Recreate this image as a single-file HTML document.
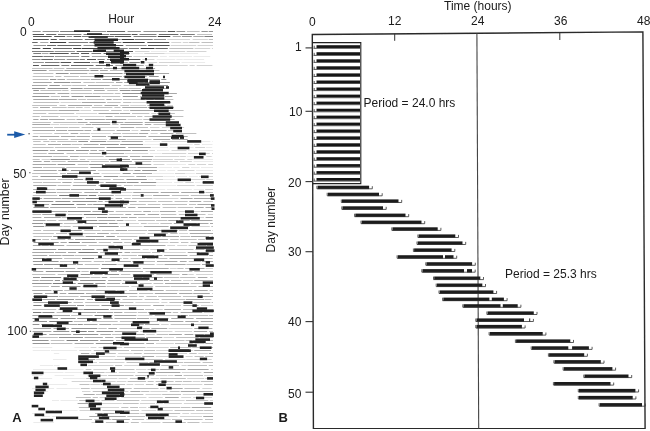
<!DOCTYPE html>
<html><head><meta charset="utf-8"><style>
html,body{margin:0;padding:0;background:#fff;}
body{width:650px;height:431px;overflow:hidden;position:relative;}
svg{position:absolute;left:0;top:0;}
text{font-family:"Liberation Sans",Arial,sans-serif;fill:#1a1a1a;}
</style></head><body>
<svg width="650" height="431" viewBox="0 0 650 431">
<defs><filter id="soft" x="0" y="0" width="1" height="1"><feGaussianBlur stdDeviation="0.35"/></filter></defs>
<rect width="650" height="431" fill="#fff"/>
<g filter="url(#soft)">
<g id="A">
<path d="M151.2 51.5h15.8M131.2 53.5h12.1M165.2 53.5h14.2M180.0 53.5h18.1M159.9 56.5h6.8M168.9 56.5h23.1M193.6 56.5h16.6M156.8 59.5h18.4M176.5 59.5h6.1M183.5 59.5h20.6M140.7 62.5h5.9M181.6 62.5h23.5M145.0 141.5h14.9M188.1 141.5h22.2M212.5 141.5h0.5M143.9 144.5h24.0M170.1 144.5h22.5M202.1 144.5h10.3M151.7 147.5h16.1M169.9 147.5h23.5M206.0 147.5h6.2M157.1 150.5h12.1M188.1 150.5h9.4M199.0 150.5h14.0M149.9 153.5h11.3M186.8 156.5h17.1M193.2 159.5h19.8M193.7 161.5h19.3M166.6 164.5h19.4M158.5 167.5h13.5M173.5 167.5h5.9M191.2 167.5h8.3M201.2 167.5h11.8M159.3 170.5h6.3M167.5 170.5h7.5M196.3 170.5h16.7M153.3 173.5h20.9M186.2 173.5h8.5M164.2 176.5h10.6M176.2 176.5h10.7M189.2 176.5h8.5M147.9 179.5h5.3M164.0 179.5h16.1M156.9 182.5h15.0M174.3 182.5h8.9M195.2 182.5h5.1M156.5 185.5h19.7M142.6 189.5h22.6M166.9 189.5h24.8M193.8 189.5h10.0M32.5 347.5h19.7M74.5 347.5h14.4M32.8 350.5h17.4M51.2 350.5h25.9M53.9 353.5h5.3M53.0 359.5h13.4M39.9 365.5h13.3M53.9 365.5h5.5M33.0 369.5h24.2M59.3 369.5h24.2M32.6 372.5h5.4M39.1 372.5h24.3M64.7 372.5h21.3M32.0 375.5h10.5M54.7 375.5h19.5M32.6 378.5h19.5M63.0 378.5h22.5M43.9 384.5h23.3M32.2 388.5h21.9M56.6 388.5h23.0M33.5 391.5h14.6M52.2 400.5h6.6M60.6 400.5h17.1M45.8 410.5h8.3M55.1 410.5h22.4M32.3 413.5h11.7M41.8 416.5h8.4M51.9 416.5h8.6M33.5 422.5h20.3" stroke="#2a2a2a" stroke-opacity="0.1" stroke-width="1" fill="none"/>
<path d="M167.3 39.5h22.8M192.7 39.5h15.2M171.4 42.5h9.8M182.8 42.5h5.6M170.8 45.5h25.4M197.6 45.5h15.4M194.7 48.5h15.5M211.9 48.5h1.1M135.1 51.5h14.3M169.0 51.5h16.2M186.7 51.5h19.7M144.4 53.5h20.2M133.3 56.5h24.7M142.3 59.5h12.2M147.3 62.5h9.9M158.9 62.5h20.8M145.1 65.5h22.6M169.4 65.5h18.2M189.5 65.5h5.1M196.7 65.5h15.6M60.6 102.5h20.3M132.2 102.5h18.5M130.2 105.5h15.9M167.2 105.5h5.8M84.2 107.5h5.9M80.3 110.5h10.8M123.4 110.5h5.8M156.7 110.5h8.5M76.0 113.5h21.1M151.3 113.5h5.0M60.1 116.5h18.1M79.8 116.5h24.7M127.7 119.5h14.5M51.1 124.5h8.0M59.8 124.5h24.5M95.8 127.5h22.9M150.0 127.5h9.5M161.9 127.5h22.2M131.5 130.5h6.8M33.3 133.5h18.9M90.8 133.5h19.8M150.6 133.5h7.1M91.6 139.5h15.3M126.7 139.5h24.8M161.6 141.5h25.2M194.4 144.5h5.2M195.2 147.5h9.9M149.3 150.5h5.7M171.5 150.5h15.0M124.6 153.5h23.6M161.8 153.5h24.4M188.0 153.5h21.6M212.0 153.5h1.0M154.8 156.5h24.6M180.1 156.5h5.8M206.3 156.5h5.3M212.9 156.5h0.1M41.7 159.5h8.2M87.3 159.5h20.4M153.0 159.5h19.9M174.4 159.5h10.3M187.3 159.5h5.2M152.5 161.5h25.5M179.9 161.5h12.0M153.6 164.5h10.8M188.4 164.5h6.8M196.9 164.5h9.2M208.2 164.5h4.8M182.1 167.5h7.2M97.9 170.5h25.2M177.5 170.5h16.9M101.6 173.5h18.6M175.0 173.5h10.4M195.9 173.5h17.1M146.7 176.5h16.6M199.3 176.5h13.7M155.5 179.5h7.9M181.0 179.5h24.2M206.2 179.5h6.8M185.4 182.5h8.4M201.9 182.5h11.1M177.1 185.5h17.6M196.5 185.5h16.5M205.1 189.5h7.9M116.9 192.5h15.6M115.0 195.5h16.2M141.0 195.5h11.1M153.3 198.5h25.1M151.8 211.5h7.2M178.1 211.5h21.9M207.9 214.5h5.1M194.3 217.5h9.8M124.4 220.5h11.7M118.5 223.5h20.4M147.7 223.5h11.4M120.1 226.5h22.4M191.6 226.5h18.2M119.7 233.5h25.8M179.1 233.5h9.0M151.5 242.5h16.9M116.5 245.5h22.4M167.2 245.5h7.9M177.2 245.5h10.0M142.7 249.5h5.9M150.4 249.5h16.5M206.0 249.5h7.0M162.5 252.5h23.3M200.6 252.5h12.4M117.3 264.5h16.8M156.6 264.5h7.0M169.8 268.5h6.9M205.6 268.5h7.4M188.4 274.5h5.2M196.1 274.5h16.9M210.0 277.5h3.0M183.1 280.5h10.1M131.3 286.5h8.2M116.7 290.5h10.1M211.9 293.5h1.1M135.3 302.5h24.0M161.3 302.5h6.2M165.6 305.5h15.4M201.0 305.5h12.0M156.1 309.5h6.5M198.4 309.5h7.0M204.0 312.5h9.0M137.7 315.5h14.7M150.0 318.5h19.1M161.1 324.5h7.5M168.6 328.5h23.8M140.4 331.5h5.7M147.4 331.5h25.0M174.8 331.5h17.3M146.2 334.5h8.4M163.5 337.5h10.5M156.0 343.5h17.9M194.9 343.5h9.5M90.5 347.5h5.8M98.6 347.5h9.7M110.2 347.5h12.0M146.6 347.5h22.0M79.3 350.5h11.9M156.1 350.5h15.8M173.4 350.5h19.8M91.2 353.5h11.4M118.1 353.5h14.6M172.1 353.5h15.0M198.4 353.5h9.4M93.9 356.5h21.5M116.9 356.5h23.7M155.9 356.5h15.2M173.0 356.5h10.1M185.5 356.5h7.2M96.1 359.5h17.6M165.0 359.5h20.6M186.2 359.5h25.5M91.6 362.5h5.4M99.1 362.5h25.4M87.9 365.5h25.5M124.2 365.5h22.8M147.8 365.5h11.4M181.6 365.5h5.1M93.3 369.5h14.0M136.0 369.5h10.3M210.9 369.5h2.1M105.4 372.5h11.6M118.8 372.5h16.3M181.8 372.5h19.5M87.6 375.5h19.5M155.9 375.5h11.4M168.0 375.5h5.3M204.1 375.5h8.7M98.2 378.5h19.1M118.5 378.5h9.0M150.5 378.5h8.8M187.2 378.5h17.0M205.2 378.5h5.3M71.7 381.5h21.7M94.6 381.5h21.1M116.7 381.5h9.6M192.7 381.5h7.5M90.4 384.5h9.5M126.6 384.5h6.6M134.7 384.5h9.3M181.8 384.5h20.5M90.8 388.5h23.9M115.5 388.5h5.8M160.0 388.5h5.3M202.3 388.5h9.5M82.0 391.5h8.4M111.5 391.5h16.8M150.3 391.5h17.2M145.6 394.5h15.8M182.8 394.5h23.9M99.5 397.5h19.9M121.3 397.5h25.1M148.6 397.5h14.0M181.2 397.5h9.9M193.2 397.5h18.9M94.2 400.5h5.4M141.2 400.5h19.8M163.6 400.5h21.1M209.9 400.5h3.1M96.4 403.5h25.4M139.9 403.5h15.1M156.1 403.5h6.8M163.8 403.5h18.1M183.9 403.5h21.6M97.2 407.5h21.9M139.0 407.5h7.3M79.5 410.5h21.7M141.5 410.5h14.7M157.2 410.5h15.6M140.2 413.5h18.0M182.3 413.5h6.8M190.5 413.5h22.5M146.2 416.5h20.0M168.3 416.5h9.1M179.9 416.5h22.1M146.4 419.5h10.6M158.3 419.5h12.4M91.6 422.5h12.1M141.3 422.5h19.2M201.7 422.5h11.3" stroke="#2a2a2a" stroke-opacity="0.2" stroke-width="1" fill="none"/>
<path d="M186.9 31.5h12.8M197.1 34.5h15.0M208.7 39.5h4.3M189.1 42.5h10.4M201.5 42.5h11.5M169.3 48.5h24.0M32.1 68.5h20.5M53.7 68.5h10.6M126.9 68.5h6.6M48.9 70.5h14.4M110.0 70.5h23.6M135.6 70.5h23.9M33.4 73.5h20.0M88.7 73.5h10.8M32.7 76.5h20.8M55.4 76.5h6.0M63.9 76.5h14.9M80.1 76.5h20.5M123.1 76.5h13.3M32.6 79.5h16.0M66.7 79.5h23.1M83.4 82.5h11.4M95.6 82.5h18.4M61.8 85.5h9.8M72.2 85.5h13.8M111.8 85.5h9.3M123.7 85.5h22.2M104.9 88.5h13.0M119.2 88.5h8.6M128.4 88.5h12.4M40.4 90.5h21.1M62.2 90.5h6.3M70.9 90.5h20.7M107.3 90.5h10.5M70.7 93.5h21.4M92.8 93.5h20.8M114.7 93.5h5.7M150.1 93.5h10.6M50.7 96.5h9.2M101.5 96.5h18.7M140.0 96.5h24.2M77.9 99.5h8.0M86.9 99.5h17.6M112.9 99.5h8.9M123.0 99.5h21.7M154.9 99.5h18.4M33.3 102.5h25.9M107.2 102.5h13.5M123.1 102.5h8.4M153.0 102.5h18.1M32.2 105.5h24.8M59.5 105.5h6.1M93.9 105.5h8.4M120.3 105.5h8.8M32.7 107.5h5.5M52.1 107.5h14.6M67.6 107.5h7.2M75.7 107.5h6.9M91.9 107.5h20.4M114.4 107.5h6.1M33.2 110.5h24.5M93.3 110.5h15.5M111.2 110.5h10.5M167.5 110.5h16.1M32.9 113.5h13.3M48.4 113.5h25.8M132.0 113.5h17.3M157.0 113.5h17.9M32.5 116.5h7.2M41.1 116.5h17.3M114.4 116.5h21.4M137.2 116.5h5.2M144.4 116.5h12.4M158.6 116.5h24.7M66.6 119.5h8.7M143.3 119.5h9.9M32.4 122.5h18.5M53.4 122.5h23.5M112.2 124.5h6.4M153.5 124.5h24.8M32.1 127.5h20.9M54.1 127.5h13.9M68.6 127.5h10.9M81.6 127.5h11.7M135.7 127.5h12.3M93.3 130.5h21.5M168.0 130.5h9.9M54.3 133.5h14.2M79.8 133.5h10.0M112.8 133.5h8.3M122.2 133.5h16.0M175.9 133.5h20.4M32.6 139.5h14.6M49.0 139.5h19.2M70.7 139.5h18.7M33.1 141.5h7.6M43.3 141.5h6.2M50.6 141.5h5.3M57.3 141.5h19.7M107.2 141.5h13.2M33.3 144.5h12.4M71.5 144.5h10.9M32.4 147.5h21.3M54.9 147.5h24.0M33.2 153.5h13.5M66.5 153.5h21.6M53.2 156.5h14.6M79.4 156.5h24.2M32.6 159.5h7.1M70.7 159.5h6.9M79.9 159.5h5.4M51.5 161.5h14.2M90.7 161.5h18.2M134.4 161.5h16.9M77.7 164.5h10.9M43.1 167.5h21.6M66.3 167.5h21.9M127.5 167.5h9.0M124.2 170.5h9.2M32.2 173.5h25.3M60.1 173.5h5.8M32.3 176.5h5.8M67.5 176.5h7.9M119.4 176.5h15.0M32.1 179.5h23.8M57.8 179.5h15.0M84.6 179.5h26.0M113.0 179.5h11.1M33.1 182.5h9.1M43.0 182.5h17.8M73.5 182.5h22.0M97.3 182.5h6.4M57.6 185.5h13.0M116.0 185.5h5.4M124.0 185.5h8.8M133.6 185.5h22.2M39.9 189.5h15.5M116.5 189.5h24.7M56.7 192.5h25.1M205.5 192.5h7.5M32.8 195.5h24.4M132.1 195.5h7.8M171.9 195.5h17.0M190.8 195.5h19.9M212.2 195.5h0.8M102.2 198.5h11.2M124.3 198.5h6.3M132.0 198.5h20.4M138.7 201.5h17.8M157.9 201.5h14.6M174.5 201.5h13.2M203.4 201.5h9.6M130.0 204.5h15.9M147.8 204.5h12.5M162.1 204.5h24.9M189.0 204.5h7.1M162.7 207.5h13.8M177.5 207.5h15.7M115.7 211.5h25.9M32.5 214.5h8.6M68.0 214.5h14.4M109.3 214.5h14.2M160.9 214.5h15.4M178.8 214.5h13.2M194.0 214.5h11.5M61.6 217.5h13.1M86.0 217.5h10.1M138.1 217.5h21.9M182.4 217.5h9.4M46.7 220.5h9.5M58.5 220.5h15.8M138.1 220.5h16.8M156.2 220.5h11.2M63.9 223.5h18.8M140.9 223.5h5.8M160.4 223.5h11.5M44.9 226.5h17.8M63.3 226.5h7.3M72.8 226.5h24.2M211.3 226.5h1.7M33.4 230.5h7.7M43.2 230.5h19.8M84.2 230.5h16.4M101.7 230.5h12.5M128.0 230.5h19.1M179.1 230.5h8.0M32.7 233.5h21.1M56.0 233.5h11.1M68.4 233.5h6.3M75.9 233.5h19.7M110.5 233.5h8.5M147.7 233.5h20.1M170.3 233.5h7.3M33.4 236.5h18.7M61.8 236.5h22.6M117.0 236.5h20.6M138.8 236.5h22.3M180.3 236.5h10.0M211.5 236.5h1.5M42.3 239.5h6.7M50.9 239.5h14.3M67.8 239.5h5.8M121.0 239.5h10.9M133.9 239.5h13.8M170.2 239.5h8.5M179.9 239.5h16.8M198.0 239.5h6.8M98.7 242.5h12.2M124.2 242.5h6.8M132.9 242.5h17.2M169.8 242.5h8.8M181.0 242.5h7.4M190.6 242.5h7.0M199.3 242.5h13.7M41.9 245.5h6.7M66.5 245.5h20.0M88.6 245.5h25.8M188.5 245.5h17.5M169.1 249.5h24.4M100.1 252.5h5.3M131.3 252.5h19.3M151.9 252.5h8.3M74.8 255.5h25.7M101.2 255.5h19.1M121.4 255.5h15.5M189.6 255.5h18.3M64.1 258.5h16.6M95.4 258.5h15.1M111.8 258.5h9.9M123.1 258.5h5.2M130.6 258.5h14.4M146.7 258.5h8.5M155.9 258.5h11.5M195.4 258.5h17.3M59.9 261.5h14.0M76.3 261.5h15.2M93.8 261.5h10.4M104.9 261.5h10.6M131.9 261.5h23.1M188.8 261.5h12.2M84.7 264.5h15.4M136.7 264.5h17.9M186.4 264.5h13.9M122.0 268.5h18.8M177.3 268.5h6.3M185.2 268.5h8.8M81.4 271.5h7.3M145.5 271.5h9.7M156.3 271.5h14.1M171.4 271.5h20.9M194.3 271.5h18.7M32.2 274.5h23.1M57.7 274.5h20.8M120.9 274.5h9.4M132.7 274.5h21.4M156.4 274.5h23.1M90.5 277.5h9.9M109.8 277.5h23.5M134.1 277.5h7.9M163.7 277.5h15.5M180.1 277.5h15.4M122.7 280.5h25.4M171.0 280.5h10.3M139.9 283.5h11.8M153.5 283.5h9.7M190.7 283.5h16.0M208.2 283.5h4.8M32.8 286.5h16.1M106.6 286.5h22.5M140.6 286.5h12.5M155.3 286.5h14.5M170.6 286.5h25.9M64.2 290.5h13.0M77.8 290.5h17.0M129.1 290.5h18.4M165.8 290.5h12.8M179.3 290.5h12.7M209.5 290.5h3.5M139.0 293.5h14.2M58.7 296.5h19.9M129.3 296.5h8.1M138.7 296.5h5.1M146.4 296.5h10.5M158.1 296.5h23.0M182.9 296.5h13.8M122.5 299.5h19.9M144.6 299.5h14.5M161.6 299.5h23.4M204.9 299.5h6.5M73.5 302.5h9.4M85.2 302.5h24.3M119.6 302.5h13.7M169.4 302.5h22.6M193.2 302.5h17.2M211.6 302.5h1.4M85.5 305.5h14.0M124.8 305.5h25.9M32.4 309.5h23.8M145.2 309.5h8.8M183.0 309.5h14.7M207.3 309.5h5.7M56.6 312.5h15.1M124.1 312.5h12.7M137.8 312.5h9.3M172.8 312.5h5.3M39.4 315.5h11.1M71.2 315.5h21.5M154.8 315.5h24.7M188.9 315.5h19.3M209.1 315.5h3.9M73.8 321.5h16.2M92.4 321.5h25.3M119.9 321.5h22.6M143.6 321.5h14.6M112.4 324.5h22.7M170.6 324.5h22.3M193.9 324.5h19.1M98.3 328.5h8.4M119.5 328.5h22.0M209.2 331.5h3.8M112.1 334.5h22.3M156.6 334.5h11.6M194.6 334.5h9.1M205.0 334.5h7.3M32.6 337.5h25.2M176.1 337.5h22.4M200.1 337.5h12.9M50.7 340.5h13.7M160.7 340.5h23.9M185.5 340.5h6.4M193.3 340.5h19.7M50.8 343.5h21.6M175.0 343.5h17.7M123.9 347.5h21.7M170.2 347.5h21.3M192.2 347.5h13.9M206.9 347.5h6.1M93.8 350.5h15.0M109.7 350.5h19.3M131.0 350.5h12.2M144.2 350.5h10.9M103.3 353.5h12.5M133.5 353.5h8.2M143.9 353.5h25.8M189.4 353.5h7.3M80.3 356.5h13.0M194.5 356.5h9.2M205.2 356.5h7.8M114.4 359.5h25.7M141.2 359.5h21.5M126.5 362.5h21.9M158.8 362.5h24.2M183.7 362.5h16.7M202.6 362.5h10.4M115.1 365.5h7.0M161.3 365.5h17.7M187.5 365.5h19.5M208.8 365.5h4.2M85.7 369.5h5.6M109.7 369.5h24.8M147.5 369.5h11.8M88.4 372.5h16.2M137.6 372.5h16.1M108.2 375.5h25.3M135.3 375.5h18.8M183.6 375.5h19.4M86.2 378.5h9.8M129.9 378.5h18.8M160.2 378.5h25.6M212.8 378.5h0.2M127.6 381.5h18.5M147.6 381.5h6.1M155.6 381.5h9.9M166.2 381.5h7.4M175.2 381.5h7.0M183.0 381.5h8.7M200.9 381.5h12.1M79.5 384.5h10.0M100.7 384.5h24.4M145.9 384.5h7.5M156.0 384.5h8.8M165.4 384.5h15.8M204.1 384.5h8.9M80.9 388.5h8.8M122.7 388.5h9.0M133.8 388.5h24.7M184.4 388.5h15.3M92.7 391.5h17.8M141.2 391.5h8.1M169.8 391.5h9.9M95.9 394.5h23.3M120.6 394.5h22.8M162.2 394.5h18.8M209.2 394.5h3.8M75.9 397.5h14.9M92.7 397.5h5.2M79.1 400.5h14.2M101.5 400.5h12.8M116.8 400.5h22.5M185.9 400.5h22.3M122.7 403.5h16.0M78.9 407.5h17.3M121.3 407.5h7.0M130.1 407.5h7.9M148.2 407.5h10.4M160.0 407.5h20.2M180.9 407.5h9.6M102.4 410.5h20.1M123.3 410.5h6.9M130.8 410.5h8.2M174.5 410.5h20.0M196.2 410.5h7.2M204.1 410.5h8.9M95.0 413.5h7.2M115.3 413.5h24.1M159.4 413.5h20.8M127.3 416.5h17.7M78.3 419.5h13.8M94.4 419.5h17.1M132.2 419.5h11.9M172.0 419.5h9.8M184.2 419.5h18.4M205.0 419.5h8.0M105.9 422.5h22.7M130.9 422.5h7.9M162.5 422.5h23.3M187.4 422.5h12.1" stroke="#2a2a2a" stroke-opacity="0.3" stroke-width="1" fill="none"/>
<path d="M172.7 36.5h8.2M193.3 36.5h10.5M40.2 42.5h8.1M42.0 53.5h6.5M91.9 56.5h19.7M112.4 56.5h19.5M91.2 62.5h11.5M118.6 62.5h9.2M115.4 65.5h19.6M136.0 65.5h7.8M66.3 68.5h20.5M89.4 68.5h13.0M104.0 68.5h21.1M134.5 68.5h20.6M64.5 70.5h24.9M100.0 70.5h7.8M70.0 73.5h17.4M123.8 73.5h10.2M145.5 73.5h23.6M103.1 76.5h18.8M137.3 76.5h9.4M57.4 79.5h7.6M90.8 79.5h10.2M135.9 79.5h23.8M33.1 82.5h18.6M71.1 82.5h9.9M116.0 82.5h6.5M124.1 82.5h13.1M138.3 82.5h5.2M32.0 85.5h15.5M88.0 85.5h21.7M83.6 88.5h20.7M143.3 88.5h25.2M94.0 90.5h10.7M157.3 90.5h5.5M33.1 93.5h22.3M57.5 93.5h11.9M161.4 93.5h15.5M61.0 96.5h8.2M33.2 99.5h24.9M58.8 99.5h18.0M106.4 99.5h5.2M146.4 99.5h7.1M81.8 102.5h23.9M68.1 105.5h24.0M104.5 105.5h13.5M147.4 105.5h10.2M159.6 105.5h5.9M40.0 107.5h9.9M122.2 107.5h25.0M148.0 107.5h25.9M58.5 110.5h20.9M130.1 110.5h24.7M98.5 113.5h20.6M119.8 113.5h10.3M105.5 116.5h7.0M33.2 119.5h5.3M40.1 119.5h8.0M49.1 119.5h15.6M76.5 119.5h6.0M84.9 119.5h20.0M105.6 119.5h20.6M153.9 119.5h20.7M77.5 122.5h10.0M89.6 122.5h20.7M111.5 122.5h11.9M124.5 122.5h18.2M144.7 122.5h25.6M32.3 124.5h18.1M85.6 124.5h5.6M91.9 124.5h18.3M120.4 124.5h22.2M144.8 124.5h6.4M120.5 127.5h13.7M32.5 130.5h22.5M56.1 130.5h11.0M68.1 130.5h15.5M84.4 130.5h6.7M116.6 130.5h13.4M140.6 130.5h9.3M151.1 130.5h15.5M70.6 133.5h7.6M139.1 133.5h9.0M160.3 133.5h13.1M32.6 136.5h5.7M39.7 136.5h19.6M60.9 136.5h14.7M76.5 136.5h13.5M92.0 136.5h14.0M107.8 136.5h13.8M122.7 136.5h23.5M148.4 136.5h22.9M173.2 136.5h14.5M109.4 139.5h16.4M153.1 139.5h17.1M171.9 139.5h15.8M121.5 141.5h21.3M48.0 144.5h12.9M62.0 144.5h8.9M83.5 144.5h15.1M81.1 147.5h23.7M128.1 147.5h22.6M49.9 150.5h5.1M90.4 150.5h6.6M98.8 150.5h5.6M48.3 153.5h15.6M89.4 153.5h11.3M102.5 153.5h21.5M32.9 156.5h19.3M70.0 156.5h8.8M105.5 156.5h22.3M130.0 156.5h10.4M141.6 156.5h11.7M131.9 159.5h20.3M33.1 161.5h8.5M43.9 161.5h6.3M67.7 161.5h21.7M110.4 161.5h21.5M32.6 164.5h23.7M129.2 164.5h22.0M32.7 167.5h9.3M109.9 167.5h16.0M137.4 167.5h19.7M33.5 170.5h23.2M58.2 170.5h10.5M93.4 173.5h6.0M132.9 173.5h19.2M76.9 176.5h24.5M136.3 176.5h9.7M62.3 182.5h9.3M33.2 185.5h23.2M72.8 185.5h23.3M98.6 185.5h15.8M33.1 189.5h5.9M56.5 189.5h13.5M70.9 189.5h23.1M33.2 192.5h22.8M84.3 192.5h13.9M100.0 192.5h16.1M133.2 192.5h25.4M160.7 192.5h18.3M181.2 192.5h23.6M98.0 195.5h15.8M153.1 195.5h16.5M32.4 198.5h9.7M43.6 198.5h17.3M61.6 198.5h23.1M115.6 198.5h6.4M180.5 198.5h12.1M193.9 198.5h17.9M97.6 201.5h5.1M104.8 201.5h15.5M122.8 201.5h13.8M189.4 201.5h11.8M32.5 204.5h8.0M42.3 204.5h6.8M87.3 204.5h5.2M111.1 204.5h16.3M197.4 204.5h15.6M50.1 207.5h25.9M77.4 207.5h22.1M100.4 207.5h25.5M128.2 207.5h7.3M137.9 207.5h22.2M194.9 207.5h8.8M205.5 207.5h7.5M32.1 211.5h13.6M47.9 211.5h19.5M92.4 211.5h9.1M103.2 211.5h10.6M143.3 211.5h7.6M159.8 211.5h16.0M200.7 211.5h12.3M42.2 214.5h24.0M125.3 214.5h5.9M133.7 214.5h11.6M147.7 214.5h11.4M32.5 217.5h8.9M44.0 217.5h16.8M76.1 217.5h7.6M120.8 217.5h6.9M128.9 217.5h7.7M160.9 217.5h20.2M205.6 217.5h7.4M32.9 220.5h12.7M98.5 220.5h16.9M116.7 220.5h6.8M168.2 220.5h9.8M178.8 220.5h10.9M191.2 220.5h21.3M43.7 223.5h18.9M173.8 223.5h22.6M198.2 223.5h10.3M210.0 223.5h3.0M143.7 226.5h24.9M170.0 226.5h19.5M115.6 230.5h11.5M148.2 230.5h15.8M165.5 230.5h12.4M188.8 230.5h22.1M212.6 230.5h0.4M97.1 233.5h11.8M189.8 233.5h23.2M162.4 236.5h16.6M191.0 236.5h18.2M32.7 239.5h8.3M95.9 239.5h23.0M149.0 239.5h19.0M206.0 239.5h7.0M60.5 242.5h6.3M81.7 242.5h15.1M113.3 242.5h9.0M32.9 245.5h7.4M50.0 245.5h14.2M140.3 245.5h25.2M207.0 245.5h6.0M96.5 249.5h22.3M119.7 249.5h20.5M195.5 249.5h9.1M32.2 252.5h21.8M55.0 252.5h11.1M68.0 252.5h8.0M124.5 252.5h5.7M187.7 252.5h11.9M32.5 255.5h14.8M49.1 255.5h12.4M62.2 255.5h12.0M138.1 255.5h16.1M156.7 255.5h5.7M164.1 255.5h23.3M209.2 255.5h3.8M46.5 258.5h15.7M169.5 258.5h24.7M117.5 261.5h13.4M157.0 261.5h20.4M179.9 261.5h6.7M201.8 261.5h11.2M64.1 264.5h12.1M76.9 264.5h6.0M164.5 264.5h21.1M202.0 264.5h11.0M54.2 268.5h21.0M77.4 268.5h21.2M113.6 268.5h7.8M142.9 268.5h25.8M196.5 268.5h8.1M33.2 271.5h10.1M110.7 271.5h6.3M118.7 271.5h24.3M94.3 274.5h8.4M182.1 274.5h5.5M70.4 277.5h19.5M101.8 277.5h5.4M143.4 277.5h19.4M197.9 277.5h9.5M32.4 280.5h6.4M39.5 280.5h13.6M108.1 280.5h13.4M149.5 280.5h13.6M164.0 280.5h5.1M194.2 280.5h18.8M107.1 283.5h13.0M122.0 283.5h16.1M165.0 283.5h24.1M51.1 286.5h8.6M82.7 286.5h23.2M198.5 286.5h14.5M32.2 290.5h19.3M52.8 290.5h10.0M95.5 290.5h20.1M149.8 290.5h13.9M194.1 290.5h13.6M45.0 293.5h12.8M59.7 293.5h6.5M85.9 293.5h20.9M123.7 293.5h13.7M154.8 293.5h22.3M179.1 293.5h13.4M193.2 293.5h16.6M80.2 296.5h19.5M197.4 296.5h15.6M32.4 299.5h9.2M42.3 299.5h12.8M75.3 299.5h9.2M86.9 299.5h6.1M94.2 299.5h13.6M109.6 299.5h10.7M185.8 299.5h18.4M33.4 302.5h16.8M52.4 302.5h19.2M43.7 305.5h13.2M57.5 305.5h18.5M153.2 305.5h11.1M183.4 305.5h15.2M58.5 309.5h24.4M110.1 309.5h18.8M129.6 309.5h14.4M164.3 309.5h16.6M72.6 312.5h23.5M96.9 312.5h16.3M114.0 312.5h8.4M147.9 312.5h23.3M180.6 312.5h21.6M32.4 315.5h5.6M52.9 315.5h17.1M114.3 315.5h22.1M181.0 315.5h6.8M114.5 318.5h21.5M136.8 318.5h12.3M171.2 318.5h22.4M196.1 318.5h16.9M159.3 321.5h24.1M185.3 321.5h13.2M200.7 321.5h12.3M55.3 324.5h21.7M83.7 324.5h13.8M99.3 324.5h12.0M136.9 324.5h6.8M144.9 324.5h14.3M33.3 328.5h17.8M53.5 328.5h15.5M108.3 328.5h8.7M142.6 328.5h7.1M151.4 328.5h15.8M194.3 328.5h18.1M32.5 331.5h18.9M114.7 331.5h23.7M193.9 331.5h13.2M49.2 334.5h21.9M100.3 334.5h10.8M136.6 334.5h7.9M168.9 334.5h13.0M184.5 334.5h8.9M84.5 337.5h18.4M105.1 337.5h8.2M115.4 337.5h16.7M134.1 337.5h10.8M146.2 337.5h16.1M116.0 340.5h12.2M129.6 340.5h12.3M142.9 340.5h16.2M74.6 343.5h19.1M122.1 343.5h22.2M146.2 343.5h7.8M205.5 343.5h7.5M194.2 350.5h16.8M213.0 350.5h0.0M80.9 353.5h8.4M208.9 353.5h4.1M142.3 356.5h11.8M80.3 359.5h14.9M149.4 362.5h7.2M160.1 369.5h25.6M187.6 369.5h21.0M155.7 372.5h24.7M203.8 372.5h9.2M174.6 375.5h7.4M167.7 388.5h15.0M130.4 391.5h10.0M180.7 391.5h14.5M196.6 391.5h16.4M83.6 394.5h11.1M165.1 397.5h13.6M77.6 403.5h10.6M90.2 403.5h5.4M207.5 403.5h5.5M191.7 407.5h19.5M103.8 413.5h10.9M89.3 416.5h10.5M101.8 416.5h24.0M203.2 416.5h9.8M112.1 419.5h17.7" stroke="#2a2a2a" stroke-opacity="0.4" stroke-width="1" fill="none"/>
<path d="M32.5 31.5h8.2M42.6 31.5h16.3M83.7 31.5h22.4M127.6 31.5h13.3M143.5 31.5h23.0M176.4 31.5h8.8M201.5 31.5h6.3M208.7 31.5h4.3M66.6 36.5h5.5M181.9 36.5h9.9M99.0 39.5h6.3M106.0 39.5h8.4M115.7 39.5h5.0M153.7 39.5h12.3M100.0 42.5h21.4M33.4 45.5h12.7M83.5 45.5h18.7M125.7 45.5h20.8M54.7 51.5h20.2M94.3 51.5h7.2M55.0 56.5h24.1M32.2 59.5h8.4M54.0 59.5h11.1M66.7 59.5h12.3M33.0 62.5h10.9M32.0 70.5h14.6M90.4 70.5h8.0M55.8 73.5h12.8M100.1 73.5h22.5M135.2 73.5h9.0M149.1 76.5h9.6M50.0 79.5h6.3M102.5 79.5h25.0M129.8 79.5h5.5M161.3 79.5h5.0M53.8 82.5h16.6M144.7 82.5h25.1M49.4 85.5h10.4M147.0 85.5h21.0M32.1 88.5h13.3M47.7 88.5h20.4M70.7 88.5h11.9M33.3 90.5h5.6M119.8 90.5h10.8M131.2 90.5h24.2M122.2 93.5h25.6M32.4 96.5h16.9M71.6 96.5h11.9M84.8 96.5h15.7M122.8 96.5h15.0M164.9 96.5h7.5M78.3 141.5h9.7M90.1 141.5h16.1M100.0 144.5h18.8M120.2 144.5h22.9M106.6 147.5h19.0M32.7 150.5h15.5M57.3 150.5h16.8M76.0 150.5h12.9M106.2 150.5h24.6M132.1 150.5h15.7M50.5 159.5h19.4M108.7 159.5h21.3M57.6 164.5h17.6M89.2 164.5h13.9M104.9 164.5h23.6M90.4 167.5h17.2M70.9 170.5h24.9M134.4 170.5h6.1M142.2 170.5h14.6M67.0 173.5h24.0M122.7 173.5h8.0M40.5 176.5h24.6M103.7 176.5h14.5M74.0 179.5h9.2M126.5 179.5h20.3M105.7 182.5h20.2M126.6 182.5h12.0M140.9 182.5h15.4M94.9 189.5h20.7M76.5 195.5h11.0M32.8 201.5h20.5M55.4 201.5h15.0M72.5 201.5h24.2M76.5 204.5h9.3M93.2 204.5h15.4M33.4 207.5h15.2M68.0 211.5h22.7M97.1 217.5h10.0M107.7 217.5h12.2M76.0 220.5h21.2M32.2 223.5h10.8M84.7 223.5h22.8M108.8 223.5h8.8M33.2 226.5h11.0M99.1 226.5h19.6M65.2 230.5h16.5M53.2 236.5h7.9M85.6 236.5h18.4M106.3 236.5h8.5M75.1 239.5h20.2M33.5 242.5h25.2M32.9 249.5h23.3M58.0 249.5h23.3M82.2 249.5h12.2M106.7 252.5h15.5M33.0 258.5h11.4M32.9 261.5h25.7M33.4 264.5h9.5M44.1 264.5h18.6M101.9 264.5h14.7M32.5 268.5h20.6M45.8 271.5h18.4M65.5 271.5h14.7M90.7 271.5h18.6M80.7 274.5h12.0M104.6 274.5h14.5M33.0 277.5h6.9M63.6 277.5h5.7M54.8 280.5h5.2M62.0 280.5h16.4M80.1 280.5h25.6M32.1 283.5h19.6M70.7 283.5h5.0M95.3 283.5h9.9M62.0 286.5h18.5M33.4 293.5h9.0M68.3 293.5h16.0M107.5 293.5h14.7M33.2 296.5h7.1M41.1 296.5h16.9M101.1 296.5h26.0M56.7 299.5h17.3M77.0 305.5h7.0M101.5 305.5h22.4M42.4 312.5h12.0M106.6 315.5h5.9M32.5 318.5h25.5M60.6 318.5h15.1M77.3 318.5h24.1M103.4 318.5h9.2M32.9 321.5h14.1M32.6 324.5h6.8M41.3 324.5h12.1M77.5 324.5h5.3M71.5 328.5h25.8M53.3 331.5h16.0M88.0 331.5h6.2M96.5 331.5h16.7M32.8 334.5h13.8M73.1 334.5h25.2M58.9 337.5h24.1M32.1 340.5h16.5M80.0 340.5h18.3M100.2 340.5h13.3M32.6 343.5h17.0M95.8 343.5h23.9" stroke="#2a2a2a" stroke-opacity="0.5" stroke-width="1" fill="none"/>
<path d="M60.1 31.5h15.7M76.5 31.5h6.5M58.0 34.5h23.4M83.5 34.5h25.6M139.5 34.5h17.0M180.2 34.5h14.6M81.8 36.5h7.7M133.5 36.5h23.1M204.4 36.5h8.6M59.2 39.5h23.4M134.9 39.5h17.9M68.6 42.5h19.6M118.3 48.5h9.4M128.9 48.5h10.1M32.0 51.5h21.8M103.2 51.5h10.8M33.3 53.5h7.9M91.5 53.5h9.6M121.4 53.5h8.4M43.4 56.5h10.7M81.3 56.5h8.1M79.6 59.5h5.3M97.5 59.5h7.2M107.0 59.5h15.4M45.0 62.5h14.6M104.0 62.5h13.0M129.4 62.5h10.5M61.4 65.5h7.9M59.1 195.5h15.9M88.7 195.5h7.5M85.7 198.5h15.3M51.5 204.5h22.7M83.8 214.5h23.7M68.7 242.5h11.2M78.4 252.5h19.5M82.1 258.5h12.1M101.1 268.5h10.8M41.2 277.5h20.0M52.9 283.5h16.5M77.8 283.5h15.7M110.5 302.5h7.0M33.3 305.5h8.2M83.5 309.5h25.3M33.0 312.5h8.4M94.6 315.5h10.2M49.3 321.5h23.3M71.2 331.5h15.5M66.6 340.5h11.4" stroke="#2a2a2a" stroke-opacity="0.6" stroke-width="1" fill="none"/>
<path d="M106.9 31.5h18.2M46.2 34.5h10.1M109.9 34.5h20.9M158.8 34.5h19.6M90.6 36.5h23.3M84.8 39.5h13.4M32.2 42.5h5.5M89.4 42.5h8.5M47.1 45.5h9.1M57.3 45.5h23.9M53.1 48.5h18.8M155.4 48.5h12.4M76.7 51.5h15.9M70.8 53.5h8.2M103.6 53.5h15.2M32.2 56.5h10.6M41.3 59.5h11.6M41.2 65.5h18.2M71.0 65.5h22.5M95.7 65.5h17.3" stroke="#2a2a2a" stroke-opacity="0.7" stroke-width="1" fill="none"/>
<path d="M167.7 31.5h7.5M32.7 34.5h11.3M131.7 34.5h5.8M33.1 36.5h18.6M54.2 36.5h11.0M73.6 36.5h7.5M114.6 36.5h16.5M33.0 39.5h15.8M50.7 39.5h6.1M147.3 42.5h21.9M104.4 45.5h18.9M148.0 45.5h21.6M32.2 48.5h8.2M101.9 48.5h14.1M116.2 51.5h16.8M49.6 53.5h19.1M81.1 53.5h8.0M87.0 59.5h9.0M124.7 59.5h15.6M60.6 62.5h10.5M73.6 62.5h16.5M33.0 65.5h5.9" stroke="#2a2a2a" stroke-opacity="0.8" stroke-width="1" fill="none"/>
<path d="M157.8 36.5h12.5M121.6 39.5h12.6M50.0 42.5h16.1M122.7 42.5h22.0M42.8 48.5h8.1M73.2 48.5h7.8M81.6 48.5h18.6M140.7 48.5h13.8" stroke="#2a2a2a" stroke-opacity="0.9" stroke-width="1" fill="none"/>
<rect x="74.0" y="30.3" width="16.0" height="1.7" fill="#232323"/>
<rect x="87.0" y="33.2" width="15.0" height="1.7" fill="#232323"/>
<rect x="88.6" y="36.2" width="19.2" height="1.7" fill="#232323"/>
<rect x="94.5" y="38.5" width="23.5" height="2.5" fill="#232323"/>
<rect x="93.7" y="41.2" width="20.0" height="2.5" fill="#232323"/>
<rect x="94.5" y="44.0" width="21.5" height="2.5" fill="#232323"/>
<rect x="97.4" y="47.0" width="22.2" height="2.5" fill="#232323"/>
<rect x="93.0" y="49.5" width="13.0" height="2.5" fill="#232323"/>
<rect x="113.7" y="49.5" width="10.3" height="2.5" fill="#232323"/>
<rect x="106.0" y="52.5" width="18.0" height="2.5" fill="#232323"/>
<rect x="108.0" y="55.5" width="16.0" height="2.5" fill="#232323"/>
<rect x="110.0" y="58.5" width="14.0" height="2.5" fill="#232323"/>
<rect x="99.0" y="61.0" width="5.0" height="2.5" fill="#232323"/>
<rect x="111.0" y="61.0" width="13.0" height="2.5" fill="#232323"/>
<rect x="106.0" y="63.8" width="4.0" height="2.5" fill="#232323"/>
<rect x="113.0" y="66.8" width="4.0" height="2.5" fill="#232323"/>
<rect x="94.5" y="75.0" width="8.8" height="2.5" fill="#232323"/>
<rect x="112.0" y="78.0" width="7.6" height="2.5" fill="#232323"/>
<rect x="120.0" y="52.0" width="9.0" height="2.5" fill="#232323"/>
<rect x="120.0" y="55.0" width="6.0" height="2.5" fill="#232323"/>
<rect x="120.0" y="58.0" width="9.0" height="2.5" fill="#232323"/>
<rect x="145.0" y="58.0" width="2.0" height="2.5" fill="#232323"/>
<rect x="120.0" y="61.0" width="3.0" height="2.5" fill="#232323"/>
<rect x="140.7" y="61.0" width="3.7" height="2.5" fill="#232323"/>
<rect x="123.0" y="63.8" width="13.2" height="2.5" fill="#232323"/>
<rect x="148.8" y="63.8" width="4.4" height="2.5" fill="#232323"/>
<rect x="121.5" y="66.8" width="17.7" height="2.5" fill="#232323"/>
<rect x="146.0" y="66.8" width="7.0" height="2.5" fill="#232323"/>
<rect x="124.4" y="69.8" width="29.6" height="2.5" fill="#232323"/>
<rect x="126.0" y="72.8" width="28.0" height="2.5" fill="#232323"/>
<rect x="124.4" y="75.7" width="20.6" height="2.5" fill="#232323"/>
<rect x="163.0" y="75.7" width="2.0" height="2.5" fill="#232323"/>
<rect x="127.4" y="78.7" width="20.6" height="2.5" fill="#232323"/>
<rect x="128.9" y="81.7" width="8.8" height="2.5" fill="#232323"/>
<rect x="149.5" y="81.7" width="10.4" height="2.5" fill="#232323"/>
<rect x="127.4" y="80.2" width="20.6" height="2.5" fill="#232323"/>
<rect x="149.5" y="80.2" width="10.5" height="2.5" fill="#232323"/>
<rect x="136.0" y="83.2" width="13.5" height="2.5" fill="#232323"/>
<rect x="145.0" y="86.2" width="19.0" height="2.5" fill="#232323"/>
<rect x="166.0" y="86.2" width="3.0" height="2.5" fill="#232323"/>
<rect x="142.0" y="89.0" width="21.0" height="2.5" fill="#232323"/>
<rect x="140.7" y="91.8" width="28.0" height="2.5" fill="#232323"/>
<rect x="142.0" y="94.2" width="22.3" height="2.5" fill="#232323"/>
<rect x="140.7" y="97.2" width="23.6" height="2.5" fill="#232323"/>
<rect x="146.6" y="101.0" width="23.6" height="2.5" fill="#232323"/>
<rect x="149.5" y="103.5" width="14.8" height="2.5" fill="#232323"/>
<rect x="149.5" y="106.5" width="23.7" height="2.5" fill="#232323"/>
<rect x="154.0" y="109.5" width="14.7" height="2.5" fill="#232323"/>
<rect x="158.4" y="112.5" width="11.8" height="2.5" fill="#232323"/>
<rect x="152.5" y="115.3" width="19.2" height="2.5" fill="#232323"/>
<rect x="149.5" y="118.3" width="20.7" height="2.5" fill="#232323"/>
<rect x="165.8" y="121.2" width="13.2" height="2.5" fill="#232323"/>
<rect x="165.8" y="123.8" width="14.8" height="2.5" fill="#232323"/>
<rect x="170.2" y="126.8" width="11.8" height="2.5" fill="#232323"/>
<rect x="173.2" y="129.8" width="8.8" height="2.5" fill="#232323"/>
<rect x="171.7" y="134.8" width="11.8" height="2.5" fill="#232323"/>
<rect x="112.0" y="120.8" width="4.6" height="2.5" fill="#232323"/>
<rect x="97.4" y="128.2" width="3.0" height="2.5" fill="#232323"/>
<rect x="171.0" y="136.4" width="8.0" height="2.5" fill="#232323"/>
<rect x="180.0" y="136.4" width="4.0" height="2.5" fill="#232323"/>
<rect x="187.2" y="140.1" width="14.0" height="2.6" fill="#232323"/>
<rect x="159.9" y="143.3" width="7.4" height="2.6" fill="#232323"/>
<rect x="177.6" y="146.7" width="11.8" height="2.6" fill="#232323"/>
<rect x="199.0" y="152.6" width="6.7" height="2.6" fill="#232323"/>
<rect x="193.9" y="156.0" width="9.6" height="2.6" fill="#232323"/>
<rect x="120.0" y="158.5" width="2.0" height="2.6" fill="#232323"/>
<rect x="135.5" y="162.2" width="6.7" height="2.6" fill="#232323"/>
<rect x="120.0" y="164.9" width="8.9" height="2.6" fill="#232323"/>
<rect x="120.0" y="168.2" width="7.4" height="2.6" fill="#232323"/>
<rect x="201.0" y="175.5" width="7.6" height="2.6" fill="#232323"/>
<rect x="177.6" y="178.5" width="13.3" height="2.6" fill="#232323"/>
<rect x="202.7" y="181.1" width="11.1" height="2.6" fill="#232323"/>
<rect x="120.0" y="188.1" width="6.0" height="2.6" fill="#232323"/>
<rect x="110.7" y="136.4" width="7.3" height="2.5" fill="#232323"/>
<rect x="101.9" y="151.9" width="4.4" height="2.6" fill="#232323"/>
<rect x="116.6" y="158.5" width="5.2" height="2.6" fill="#232323"/>
<rect x="101.9" y="165.2" width="20.6" height="2.6" fill="#232323"/>
<rect x="62.0" y="168.4" width="4.4" height="2.6" fill="#232323"/>
<rect x="121.0" y="168.4" width="3.0" height="2.6" fill="#232323"/>
<rect x="79.0" y="171.5" width="11.8" height="2.6" fill="#232323"/>
<rect x="62.0" y="175.2" width="15.5" height="2.6" fill="#232323"/>
<rect x="85.6" y="177.7" width="7.4" height="2.6" fill="#232323"/>
<rect x="87.0" y="181.1" width="11.9" height="2.6" fill="#232323"/>
<rect x="100.4" y="184.4" width="16.2" height="2.6" fill="#232323"/>
<rect x="36.9" y="187.4" width="8.8" height="2.6" fill="#232323"/>
<rect x="109.2" y="187.4" width="13.3" height="2.6" fill="#232323"/>
<rect x="36.9" y="187.4" width="10.3" height="2.6" fill="#232323"/>
<rect x="110.0" y="187.4" width="14.0" height="2.6" fill="#232323"/>
<rect x="36.0" y="190.8" width="9.7" height="2.6" fill="#232323"/>
<rect x="111.5" y="190.8" width="9.5" height="2.6" fill="#232323"/>
<rect x="69.4" y="194.1" width="9.6" height="2.6" fill="#232323"/>
<rect x="32.4" y="197.3" width="7.4" height="2.6" fill="#232323"/>
<rect x="98.9" y="197.3" width="11.8" height="2.6" fill="#232323"/>
<rect x="32.4" y="200.7" width="4.5" height="2.6" fill="#232323"/>
<rect x="108.5" y="200.7" width="15.5" height="2.6" fill="#232323"/>
<rect x="34.6" y="204.1" width="9.6" height="2.6" fill="#232323"/>
<rect x="104.8" y="204.1" width="16.2" height="2.6" fill="#232323"/>
<rect x="98.2" y="207.4" width="6.6" height="2.6" fill="#232323"/>
<rect x="32.4" y="210.3" width="19.2" height="2.6" fill="#232323"/>
<rect x="101.9" y="210.3" width="5.9" height="2.6" fill="#232323"/>
<rect x="55.3" y="213.7" width="10.4" height="2.6" fill="#232323"/>
<rect x="67.1" y="217.0" width="14.8" height="2.6" fill="#232323"/>
<rect x="77.5" y="220.4" width="8.8" height="2.6" fill="#232323"/>
<rect x="45.7" y="223.3" width="14.1" height="2.6" fill="#232323"/>
<rect x="78.2" y="226.6" width="14.8" height="2.6" fill="#232323"/>
<rect x="60.5" y="229.5" width="10.3" height="2.6" fill="#232323"/>
<rect x="69.4" y="232.8" width="13.3" height="2.6" fill="#232323"/>
<rect x="57.5" y="236.2" width="13.3" height="2.6" fill="#232323"/>
<rect x="32.4" y="239.1" width="3.0" height="2.6" fill="#232323"/>
<rect x="38.3" y="242.8" width="15.5" height="2.6" fill="#232323"/>
<rect x="199.0" y="190.8" width="5.2" height="2.6" fill="#232323"/>
<rect x="140.7" y="194.1" width="2.9" height="2.6" fill="#232323"/>
<rect x="210.0" y="194.1" width="3.8" height="2.6" fill="#232323"/>
<rect x="210.8" y="197.3" width="3.7" height="2.6" fill="#232323"/>
<rect x="120.0" y="200.7" width="8.9" height="2.6" fill="#232323"/>
<rect x="120.0" y="204.1" width="3.0" height="2.6" fill="#232323"/>
<rect x="211.0" y="204.1" width="3.5" height="2.6" fill="#232323"/>
<rect x="211.5" y="207.4" width="3.0" height="2.6" fill="#232323"/>
<rect x="185.0" y="210.3" width="8.9" height="2.6" fill="#232323"/>
<rect x="185.0" y="213.7" width="12.5" height="2.6" fill="#232323"/>
<rect x="180.6" y="217.0" width="19.2" height="2.6" fill="#232323"/>
<rect x="176.1" y="220.4" width="7.4" height="2.6" fill="#232323"/>
<rect x="183.5" y="223.3" width="16.3" height="2.6" fill="#232323"/>
<rect x="126.0" y="223.3" width="3.0" height="2.6" fill="#232323"/>
<rect x="170.2" y="226.6" width="17.8" height="2.6" fill="#232323"/>
<rect x="161.4" y="229.8" width="15.5" height="2.6" fill="#232323"/>
<rect x="154.0" y="233.7" width="11.8" height="2.6" fill="#232323"/>
<rect x="139.2" y="236.9" width="10.3" height="2.6" fill="#232323"/>
<rect x="205.7" y="236.9" width="8.1" height="2.6" fill="#232323"/>
<rect x="136.2" y="239.9" width="22.2" height="2.6" fill="#232323"/>
<rect x="131.8" y="242.8" width="8.9" height="2.6" fill="#232323"/>
<rect x="197.5" y="242.8" width="15.5" height="2.6" fill="#232323"/>
<rect x="108.5" y="245.9" width="14.0" height="2.6" fill="#232323"/>
<rect x="103.3" y="248.8" width="4.5" height="2.6" fill="#232323"/>
<rect x="104.8" y="252.2" width="13.2" height="2.6" fill="#232323"/>
<rect x="98.2" y="255.5" width="3.7" height="2.6" fill="#232323"/>
<rect x="42.0" y="258.4" width="9.6" height="2.6" fill="#232323"/>
<rect x="111.5" y="258.4" width="8.1" height="2.6" fill="#232323"/>
<rect x="73.0" y="261.1" width="5.2" height="2.6" fill="#232323"/>
<rect x="59.8" y="264.3" width="7.3" height="2.6" fill="#232323"/>
<rect x="31.7" y="268.0" width="4.4" height="2.6" fill="#232323"/>
<rect x="109.2" y="268.0" width="12.6" height="2.6" fill="#232323"/>
<rect x="90.0" y="271.4" width="17.8" height="2.6" fill="#232323"/>
<rect x="67.1" y="274.4" width="11.1" height="2.6" fill="#232323"/>
<rect x="63.5" y="277.6" width="13.2" height="2.6" fill="#232323"/>
<rect x="62.7" y="281.3" width="10.3" height="2.6" fill="#232323"/>
<rect x="83.4" y="284.7" width="14.0" height="2.6" fill="#232323"/>
<rect x="69.4" y="287.2" width="7.3" height="2.6" fill="#232323"/>
<rect x="53.8" y="290.9" width="3.7" height="2.6" fill="#232323"/>
<rect x="104.8" y="290.9" width="19.2" height="2.6" fill="#232323"/>
<rect x="33.9" y="295.4" width="13.3" height="2.6" fill="#232323"/>
<rect x="91.5" y="295.4" width="13.3" height="2.6" fill="#232323"/>
<rect x="106.3" y="297.6" width="8.7" height="2.6" fill="#232323"/>
<rect x="196.0" y="246.3" width="17.8" height="2.6" fill="#232323"/>
<rect x="120.0" y="246.3" width="3.0" height="2.6" fill="#232323"/>
<rect x="157.0" y="249.3" width="7.3" height="2.6" fill="#232323"/>
<rect x="205.7" y="249.3" width="8.8" height="2.6" fill="#232323"/>
<rect x="196.8" y="252.5" width="11.8" height="2.6" fill="#232323"/>
<rect x="142.0" y="255.5" width="16.4" height="2.6" fill="#232323"/>
<rect x="193.9" y="258.4" width="10.3" height="2.6" fill="#232323"/>
<rect x="133.3" y="261.1" width="10.3" height="2.6" fill="#232323"/>
<rect x="205.7" y="261.1" width="4.3" height="2.6" fill="#232323"/>
<rect x="123.7" y="264.3" width="14.8" height="2.6" fill="#232323"/>
<rect x="205.7" y="264.3" width="8.1" height="2.6" fill="#232323"/>
<rect x="120.0" y="268.0" width="3.0" height="2.6" fill="#232323"/>
<rect x="189.4" y="268.0" width="10.4" height="2.6" fill="#232323"/>
<rect x="150.3" y="271.0" width="21.4" height="2.6" fill="#232323"/>
<rect x="133.3" y="274.4" width="18.5" height="2.6" fill="#232323"/>
<rect x="134.0" y="277.3" width="15.5" height="2.6" fill="#232323"/>
<rect x="154.0" y="277.3" width="3.0" height="2.6" fill="#232323"/>
<rect x="125.2" y="281.3" width="11.8" height="2.6" fill="#232323"/>
<rect x="202.7" y="281.3" width="10.3" height="2.6" fill="#232323"/>
<rect x="138.5" y="284.3" width="5.1" height="2.6" fill="#232323"/>
<rect x="202.7" y="284.3" width="7.3" height="2.6" fill="#232323"/>
<rect x="137.0" y="287.7" width="15.5" height="2.6" fill="#232323"/>
<rect x="120.0" y="290.9" width="4.4" height="2.6" fill="#232323"/>
<rect x="197.5" y="295.4" width="5.2" height="2.6" fill="#232323"/>
<rect x="32.4" y="298.4" width="9.6" height="2.6" fill="#232323"/>
<rect x="95.2" y="298.4" width="19.2" height="2.6" fill="#232323"/>
<rect x="48.0" y="301.3" width="19.9" height="2.6" fill="#232323"/>
<rect x="110.0" y="301.3" width="8.8" height="2.6" fill="#232323"/>
<rect x="44.2" y="304.3" width="15.6" height="2.6" fill="#232323"/>
<rect x="111.5" y="304.3" width="8.1" height="2.6" fill="#232323"/>
<rect x="59.8" y="307.3" width="17.7" height="2.6" fill="#232323"/>
<rect x="62.7" y="309.5" width="9.6" height="2.6" fill="#232323"/>
<rect x="78.2" y="312.4" width="3.0" height="2.6" fill="#232323"/>
<rect x="38.3" y="315.1" width="14.1" height="2.6" fill="#232323"/>
<rect x="103.3" y="315.1" width="8.2" height="2.6" fill="#232323"/>
<rect x="34.6" y="318.3" width="4.4" height="2.6" fill="#232323"/>
<rect x="87.0" y="318.3" width="9.7" height="2.6" fill="#232323"/>
<rect x="56.8" y="321.6" width="11.8" height="2.6" fill="#232323"/>
<rect x="42.0" y="324.5" width="20.0" height="2.6" fill="#232323"/>
<rect x="56.8" y="327.5" width="8.9" height="2.6" fill="#232323"/>
<rect x="76.0" y="330.4" width="3.7" height="2.6" fill="#232323"/>
<rect x="33.9" y="332.7" width="8.9" height="2.6" fill="#232323"/>
<rect x="32.4" y="335.3" width="6.6" height="2.6" fill="#232323"/>
<rect x="113.0" y="342.0" width="11.0" height="2.6" fill="#232323"/>
<rect x="103.3" y="346.7" width="13.3" height="2.6" fill="#232323"/>
<rect x="104.8" y="350.1" width="4.4" height="2.6" fill="#232323"/>
<rect x="96.0" y="352.3" width="8.8" height="2.6" fill="#232323"/>
<rect x="183.5" y="301.3" width="8.9" height="2.6" fill="#232323"/>
<rect x="192.4" y="304.3" width="4.4" height="2.6" fill="#232323"/>
<rect x="128.9" y="307.3" width="7.3" height="2.6" fill="#232323"/>
<rect x="196.8" y="307.3" width="10.3" height="2.6" fill="#232323"/>
<rect x="192.4" y="309.5" width="21.4" height="2.6" fill="#232323"/>
<rect x="149.5" y="312.1" width="15.5" height="2.6" fill="#232323"/>
<rect x="177.6" y="315.4" width="8.1" height="2.6" fill="#232323"/>
<rect x="156.9" y="318.3" width="11.1" height="2.6" fill="#232323"/>
<rect x="132.6" y="321.0" width="16.9" height="2.6" fill="#232323"/>
<rect x="131.0" y="323.5" width="8.2" height="2.6" fill="#232323"/>
<rect x="191.0" y="323.5" width="3.0" height="2.6" fill="#232323"/>
<rect x="137.0" y="326.5" width="5.2" height="2.6" fill="#232323"/>
<rect x="198.3" y="326.5" width="10.3" height="2.6" fill="#232323"/>
<rect x="142.9" y="329.9" width="13.3" height="2.6" fill="#232323"/>
<rect x="122.2" y="332.4" width="14.0" height="2.6" fill="#232323"/>
<rect x="210.0" y="332.4" width="3.8" height="2.6" fill="#232323"/>
<rect x="195.3" y="334.6" width="18.5" height="2.6" fill="#232323"/>
<rect x="121.5" y="336.5" width="14.0" height="2.6" fill="#232323"/>
<rect x="124.4" y="338.3" width="23.6" height="2.6" fill="#232323"/>
<rect x="195.3" y="338.3" width="14.7" height="2.6" fill="#232323"/>
<rect x="189.4" y="340.5" width="16.3" height="2.6" fill="#232323"/>
<rect x="120.0" y="342.7" width="8.9" height="2.6" fill="#232323"/>
<rect x="188.0" y="344.2" width="8.8" height="2.6" fill="#232323"/>
<rect x="178.0" y="346.4" width="2.0" height="2.6" fill="#232323"/>
<rect x="199.8" y="346.4" width="11.8" height="2.6" fill="#232323"/>
<rect x="168.7" y="349.4" width="20.7" height="2.6" fill="#232323"/>
<rect x="78.2" y="355.3" width="20.7" height="2.6" fill="#232323"/>
<rect x="78.2" y="357.6" width="10.4" height="2.6" fill="#232323"/>
<rect x="78.2" y="360.5" width="10.4" height="2.6" fill="#232323"/>
<rect x="88.0" y="360.5" width="5.0" height="2.6" fill="#232323"/>
<rect x="80.4" y="363.5" width="6.6" height="2.6" fill="#232323"/>
<rect x="57.5" y="367.2" width="9.6" height="2.6" fill="#232323"/>
<rect x="110.0" y="367.2" width="5.2" height="2.6" fill="#232323"/>
<rect x="111.0" y="369.7" width="4.0" height="2.6" fill="#232323"/>
<rect x="31.7" y="371.6" width="11.8" height="2.6" fill="#232323"/>
<rect x="83.4" y="371.6" width="9.6" height="2.6" fill="#232323"/>
<rect x="88.6" y="374.5" width="11.8" height="2.6" fill="#232323"/>
<rect x="33.9" y="376.7" width="4.4" height="2.6" fill="#232323"/>
<rect x="90.0" y="376.7" width="7.4" height="2.6" fill="#232323"/>
<rect x="93.0" y="379.7" width="8.9" height="2.6" fill="#232323"/>
<rect x="101.9" y="379.7" width="3.6" height="2.6" fill="#232323"/>
<rect x="42.8" y="382.7" width="4.4" height="2.6" fill="#232323"/>
<rect x="103.0" y="382.7" width="7.7" height="2.6" fill="#232323"/>
<rect x="35.4" y="385.6" width="13.3" height="2.6" fill="#232323"/>
<rect x="107.0" y="385.6" width="12.6" height="2.6" fill="#232323"/>
<rect x="35.4" y="388.6" width="10.3" height="2.6" fill="#232323"/>
<rect x="107.8" y="388.6" width="16.2" height="2.6" fill="#232323"/>
<rect x="33.9" y="391.5" width="10.3" height="2.6" fill="#232323"/>
<rect x="101.9" y="391.5" width="22.1" height="2.6" fill="#232323"/>
<rect x="33.9" y="394.4" width="8.9" height="2.6" fill="#232323"/>
<rect x="106.3" y="394.4" width="17.7" height="2.6" fill="#232323"/>
<rect x="104.8" y="397.4" width="11.8" height="2.6" fill="#232323"/>
<rect x="85.6" y="399.6" width="8.9" height="2.6" fill="#232323"/>
<rect x="88.6" y="402.6" width="13.3" height="2.6" fill="#232323"/>
<rect x="31.7" y="404.8" width="6.6" height="2.6" fill="#232323"/>
<rect x="88.6" y="404.8" width="7.4" height="2.6" fill="#232323"/>
<rect x="38.3" y="407.7" width="6.7" height="2.6" fill="#232323"/>
<rect x="90.0" y="407.7" width="10.4" height="2.6" fill="#232323"/>
<rect x="45.7" y="410.7" width="16.3" height="2.6" fill="#232323"/>
<rect x="115.0" y="410.7" width="9.0" height="2.6" fill="#232323"/>
<rect x="34.6" y="413.6" width="9.6" height="2.6" fill="#232323"/>
<rect x="97.4" y="413.6" width="10.4" height="2.6" fill="#232323"/>
<rect x="56.0" y="416.6" width="22.2" height="2.6" fill="#232323"/>
<rect x="98.9" y="416.6" width="10.3" height="2.6" fill="#232323"/>
<rect x="40.6" y="418.8" width="12.5" height="2.6" fill="#232323"/>
<rect x="95.2" y="420.3" width="8.1" height="2.6" fill="#232323"/>
<rect x="116.6" y="420.3" width="7.4" height="2.6" fill="#232323"/>
<rect x="168.7" y="349.4" width="22.2" height="2.6" fill="#232323"/>
<rect x="168.7" y="353.1" width="8.9" height="2.6" fill="#232323"/>
<rect x="168.7" y="355.3" width="14.8" height="2.6" fill="#232323"/>
<rect x="125.2" y="357.6" width="19.2" height="2.6" fill="#232323"/>
<rect x="199.8" y="357.6" width="7.3" height="2.6" fill="#232323"/>
<rect x="154.0" y="360.2" width="22.9" height="2.6" fill="#232323"/>
<rect x="139.2" y="363.2" width="20.7" height="2.6" fill="#232323"/>
<rect x="168.7" y="366.1" width="4.5" height="2.6" fill="#232323"/>
<rect x="151.0" y="368.6" width="4.5" height="2.6" fill="#232323"/>
<rect x="148.8" y="372.0" width="5.9" height="2.6" fill="#232323"/>
<rect x="147.3" y="375.0" width="1.5" height="2.6" fill="#232323"/>
<rect x="137.7" y="377.1" width="7.4" height="2.6" fill="#232323"/>
<rect x="207.1" y="377.1" width="5.9" height="2.6" fill="#232323"/>
<rect x="161.4" y="380.5" width="5.1" height="2.6" fill="#232323"/>
<rect x="158.4" y="383.4" width="7.4" height="2.6" fill="#232323"/>
<rect x="166.5" y="386.8" width="5.2" height="2.6" fill="#232323"/>
<rect x="120.0" y="388.6" width="4.4" height="2.6" fill="#232323"/>
<rect x="120.0" y="393.0" width="4.4" height="2.6" fill="#232323"/>
<rect x="203.5" y="393.0" width="9.5" height="2.6" fill="#232323"/>
<rect x="196.0" y="396.7" width="8.2" height="2.6" fill="#232323"/>
<rect x="156.9" y="400.4" width="11.8" height="2.6" fill="#232323"/>
<rect x="204.2" y="402.2" width="8.8" height="2.6" fill="#232323"/>
<rect x="150.3" y="405.6" width="8.1" height="2.6" fill="#232323"/>
<rect x="157.7" y="407.8" width="5.1" height="2.6" fill="#232323"/>
<rect x="120.0" y="411.4" width="9.6" height="2.6" fill="#232323"/>
<rect x="145.8" y="413.6" width="22.9" height="2.6" fill="#232323"/>
<rect x="148.0" y="416.6" width="16.3" height="2.6" fill="#232323"/>
<rect x="175.4" y="420.3" width="6.6" height="2.6" fill="#232323"/>
</g>
<g id="B">
<polygon points="312.3,34.5 642.9,31.9 645.1,428.6 313.4,428.6" fill="none" stroke="#2a2a2a" stroke-width="1.4"/>
<line x1="476.9" y1="33.3" x2="478.7" y2="428.6" stroke="#444" stroke-width="1.1"/>
<line x1="394.7" y1="33.8" x2="394.7" y2="40.8" stroke="#333" stroke-width="1"/>
<line x1="559.8" y1="32.6" x2="559.8" y2="40" stroke="#333" stroke-width="1"/>
<line x1="305.5" y1="47.9" x2="313" y2="47.9" stroke="#333" stroke-width="1.1"/>
<line x1="305.5" y1="111.3" x2="313" y2="111.3" stroke="#333" stroke-width="1.1"/>
<line x1="305.5" y1="181.6" x2="313" y2="181.6" stroke="#333" stroke-width="1.1"/>
<line x1="305.5" y1="251.7" x2="313" y2="251.7" stroke="#333" stroke-width="1.1"/>
<line x1="305.5" y1="321.6" x2="313" y2="321.6" stroke="#333" stroke-width="1.1"/>
<line x1="305.5" y1="392.2" x2="313" y2="392.2" stroke="#333" stroke-width="1.1"/>
<polyline points="312.5,42.6 360.8,42.6 360.8,183.6 312.8,183.6" fill="none" stroke="#222" stroke-width="1.1"/>
<rect x="316.5" y="45.2" width="43.5" height="2.8" fill="#161616"/>
<path d="M313.5 48.3H360.3M314.2 48.3V45.7" stroke="#444" stroke-width="0.9" fill="none"/>
<rect x="316.5" y="52.2" width="43.5" height="2.8" fill="#161616"/>
<path d="M313.5 55.4H360.3M314.2 55.4V52.8" stroke="#444" stroke-width="0.9" fill="none"/>
<rect x="316.5" y="59.3" width="43.5" height="2.8" fill="#161616"/>
<path d="M313.5 62.4H360.3M314.2 62.4V59.8" stroke="#444" stroke-width="0.9" fill="none"/>
<rect x="316.5" y="66.3" width="43.5" height="2.8" fill="#161616"/>
<path d="M313.5 69.4H360.3M314.2 69.4V66.8" stroke="#444" stroke-width="0.9" fill="none"/>
<rect x="316.5" y="73.4" width="43.5" height="2.8" fill="#161616"/>
<path d="M313.5 76.5H360.3M314.2 76.5V73.9" stroke="#444" stroke-width="0.9" fill="none"/>
<rect x="316.5" y="80.5" width="43.5" height="2.8" fill="#161616"/>
<path d="M313.5 83.5H360.3M314.2 83.5V81.0" stroke="#444" stroke-width="0.9" fill="none"/>
<rect x="316.5" y="87.5" width="43.5" height="2.8" fill="#161616"/>
<path d="M313.5 90.6H360.3M314.2 90.6V88.0" stroke="#444" stroke-width="0.9" fill="none"/>
<rect x="316.5" y="94.6" width="43.5" height="2.8" fill="#161616"/>
<path d="M313.5 97.7H360.3M314.2 97.7V95.1" stroke="#444" stroke-width="0.9" fill="none"/>
<rect x="316.5" y="101.6" width="43.5" height="2.8" fill="#161616"/>
<path d="M313.5 104.7H360.3M314.2 104.7V102.1" stroke="#444" stroke-width="0.9" fill="none"/>
<rect x="316.5" y="108.7" width="43.5" height="2.8" fill="#161616"/>
<path d="M313.5 111.8H360.3M314.2 111.8V109.2" stroke="#444" stroke-width="0.9" fill="none"/>
<rect x="316.5" y="115.6" width="43.5" height="2.8" fill="#161616"/>
<path d="M313.5 118.7H360.3M314.2 118.7V116.1" stroke="#444" stroke-width="0.9" fill="none"/>
<rect x="316.5" y="122.6" width="43.5" height="2.8" fill="#161616"/>
<path d="M313.5 125.7H360.3M314.2 125.7V123.1" stroke="#444" stroke-width="0.9" fill="none"/>
<rect x="316.5" y="129.5" width="43.5" height="2.8" fill="#161616"/>
<path d="M313.5 132.6H360.3M314.2 132.6V130.0" stroke="#444" stroke-width="0.9" fill="none"/>
<rect x="316.5" y="136.4" width="43.5" height="2.8" fill="#161616"/>
<path d="M313.5 139.5H360.3M314.2 139.5V136.9" stroke="#444" stroke-width="0.9" fill="none"/>
<rect x="316.5" y="143.3" width="43.5" height="2.8" fill="#161616"/>
<path d="M313.5 146.4H360.3M314.2 146.4V143.8" stroke="#444" stroke-width="0.9" fill="none"/>
<rect x="316.5" y="150.3" width="43.5" height="2.8" fill="#161616"/>
<path d="M313.5 153.4H360.3M314.2 153.4V150.8" stroke="#444" stroke-width="0.9" fill="none"/>
<rect x="316.5" y="157.2" width="43.5" height="2.8" fill="#161616"/>
<path d="M313.5 160.3H360.3M314.2 160.3V157.7" stroke="#444" stroke-width="0.9" fill="none"/>
<rect x="316.5" y="164.1" width="43.5" height="2.8" fill="#161616"/>
<path d="M313.5 167.2H360.3M314.2 167.2V164.6" stroke="#444" stroke-width="0.9" fill="none"/>
<rect x="316.5" y="171.1" width="43.5" height="2.8" fill="#161616"/>
<path d="M313.5 174.2H360.3M314.2 174.2V171.6" stroke="#444" stroke-width="0.9" fill="none"/>
<rect x="316.5" y="178.0" width="43.5" height="2.8" fill="#161616"/>
<path d="M313.5 181.1H360.3M314.2 181.1V178.5" stroke="#444" stroke-width="0.9" fill="none"/>
<rect x="317.6" y="185.7" width="51.5" height="3.4" fill="#1f1f1f"/>
<path d="M316.9 185.8V188.8H372.3V186.2" fill="none" stroke="#333" stroke-width="0.8"/>
<rect x="327.9" y="192.7" width="51.1" height="3.4" fill="#1f1f1f"/>
<path d="M327.2 192.8V195.8H382.2V193.2" fill="none" stroke="#333" stroke-width="0.8"/>
<rect x="342.0" y="199.4" width="56.5" height="3.4" fill="#1f1f1f"/>
<path d="M341.3 199.5V202.5H401.7V199.9" fill="none" stroke="#333" stroke-width="0.8"/>
<rect x="342.5" y="206.3" width="40.5" height="3.4" fill="#1f1f1f"/>
<path d="M341.8 206.4V209.4H386.2V206.8" fill="none" stroke="#333" stroke-width="0.8"/>
<rect x="355.3" y="213.6" width="50.2" height="3.4" fill="#1f1f1f"/>
<path d="M354.6 213.7V216.7H408.7V214.1" fill="none" stroke="#333" stroke-width="0.8"/>
<rect x="361.7" y="220.6" width="59.8" height="3.4" fill="#1f1f1f"/>
<path d="M361.0 220.7V223.7H424.7V221.1" fill="none" stroke="#333" stroke-width="0.8"/>
<rect x="392.5" y="227.3" width="45.2" height="3.4" fill="#1f1f1f"/>
<path d="M391.8 227.4V230.4H440.9V227.8" fill="none" stroke="#333" stroke-width="0.8"/>
<rect x="418.6" y="234.4" width="36.7" height="3.4" fill="#1f1f1f"/>
<path d="M417.9 234.5V237.5H458.5V234.9" fill="none" stroke="#333" stroke-width="0.8"/>
<rect x="417.7" y="241.4" width="44.8" height="3.4" fill="#1f1f1f"/>
<path d="M417.0 241.5V244.5H465.7V241.9" fill="none" stroke="#333" stroke-width="0.8"/>
<rect x="414.1" y="248.4" width="37.5" height="3.4" fill="#1f1f1f"/>
<path d="M413.4 248.5V251.5H454.8V248.9" fill="none" stroke="#333" stroke-width="0.8"/>
<rect x="397.8" y="255.2" width="45.2" height="3.4" fill="#1f1f1f"/>
<rect x="445.0" y="255.2" width="8.5" height="3.4" fill="#1f1f1f"/>
<path d="M397.1 255.3V258.3H456.7V255.7" fill="none" stroke="#333" stroke-width="0.8"/>
<rect x="426.5" y="262.2" width="45.6" height="3.4" fill="#1f1f1f"/>
<path d="M425.8 262.3V265.3H475.3V262.7" fill="none" stroke="#333" stroke-width="0.8"/>
<rect x="422.5" y="269.1" width="41.5" height="3.4" fill="#1f1f1f"/>
<rect x="467.0" y="269.1" width="5.0" height="3.4" fill="#1f1f1f"/>
<path d="M421.8 269.2V272.2H475.2V269.6" fill="none" stroke="#333" stroke-width="0.8"/>
<rect x="434.2" y="276.5" width="46.1" height="3.4" fill="#1f1f1f"/>
<path d="M433.5 276.6V279.6H483.5V277.0" fill="none" stroke="#333" stroke-width="0.8"/>
<rect x="436.9" y="283.5" width="45.4" height="3.4" fill="#1f1f1f"/>
<path d="M436.2 283.6V286.6H485.5V284.0" fill="none" stroke="#333" stroke-width="0.8"/>
<rect x="439.7" y="290.4" width="53.7" height="3.4" fill="#1f1f1f"/>
<path d="M439.0 290.5V293.5H496.6V290.9" fill="none" stroke="#333" stroke-width="0.8"/>
<rect x="443.3" y="297.6" width="46.1" height="3.4" fill="#1f1f1f"/>
<rect x="491.8" y="297.6" width="12.1" height="3.4" fill="#1f1f1f"/>
<path d="M442.6 297.7V300.7H507.1V298.1" fill="none" stroke="#333" stroke-width="0.8"/>
<rect x="463.5" y="304.2" width="37.0" height="3.4" fill="#1f1f1f"/>
<rect x="502.8" y="304.2" width="14.9" height="3.4" fill="#1f1f1f"/>
<path d="M462.8 304.3V307.3H520.9V304.7" fill="none" stroke="#333" stroke-width="0.8"/>
<rect x="487.6" y="311.4" width="46.2" height="3.4" fill="#1f1f1f"/>
<path d="M486.9 311.5V314.5H537.0V311.9" fill="none" stroke="#333" stroke-width="0.8"/>
<rect x="476.5" y="318.4" width="47.5" height="3.4" fill="#1f1f1f"/>
<rect x="529.2" y="318.4" width="1.0" height="3.4" fill="#1f1f1f"/>
<path d="M475.8 318.5V321.5H533.4V318.9" fill="none" stroke="#333" stroke-width="0.8"/>
<rect x="476.5" y="324.9" width="45.4" height="3.4" fill="#1f1f1f"/>
<path d="M475.8 325.0V328.0H525.1V325.4" fill="none" stroke="#333" stroke-width="0.8"/>
<rect x="489.8" y="332.0" width="52.9" height="3.4" fill="#1f1f1f"/>
<path d="M489.1 332.1V335.1H545.9V332.5" fill="none" stroke="#333" stroke-width="0.8"/>
<rect x="516.1" y="339.4" width="54.2" height="3.4" fill="#1f1f1f"/>
<path d="M515.4 339.5V342.5H573.5V339.9" fill="none" stroke="#333" stroke-width="0.8"/>
<rect x="531.9" y="346.3" width="36.4" height="3.4" fill="#1f1f1f"/>
<rect x="572.1" y="346.3" width="16.8" height="3.4" fill="#1f1f1f"/>
<path d="M531.2 346.4V349.4H592.1V346.8" fill="none" stroke="#333" stroke-width="0.8"/>
<rect x="549.1" y="353.2" width="35.1" height="3.4" fill="#1f1f1f"/>
<path d="M548.4 353.3V356.3H587.4V353.7" fill="none" stroke="#333" stroke-width="0.8"/>
<rect x="554.6" y="360.1" width="46.2" height="3.4" fill="#1f1f1f"/>
<path d="M553.9 360.2V363.2H604.0V360.6" fill="none" stroke="#333" stroke-width="0.8"/>
<rect x="563.8" y="367.1" width="48.6" height="3.4" fill="#1f1f1f"/>
<path d="M563.1 367.2V370.2H615.6V367.6" fill="none" stroke="#333" stroke-width="0.8"/>
<rect x="584.5" y="374.5" width="44.0" height="3.4" fill="#1f1f1f"/>
<path d="M583.8 374.6V377.6H631.7V375.0" fill="none" stroke="#333" stroke-width="0.8"/>
<rect x="554.1" y="382.0" width="56.4" height="3.4" fill="#1f1f1f"/>
<path d="M553.4 382.1V385.1H613.7V382.5" fill="none" stroke="#333" stroke-width="0.8"/>
<rect x="579.0" y="388.9" width="56.4" height="3.4" fill="#1f1f1f"/>
<path d="M578.3 389.0V392.0H638.6V389.4" fill="none" stroke="#333" stroke-width="0.8"/>
<rect x="579.0" y="395.9" width="53.7" height="3.4" fill="#1f1f1f"/>
<path d="M578.3 396.0V399.0H635.9V396.4" fill="none" stroke="#333" stroke-width="0.8"/>
<rect x="599.8" y="403.1" width="42.2" height="3.4" fill="#1f1f1f"/>
<path d="M599.1 403.2V406.2H645.2V403.6" fill="none" stroke="#333" stroke-width="0.8"/>
</g>
<!-- Panel A labels -->
<text x="28" y="25.8" font-size="12">0</text>
<text x="108.2" y="23" font-size="12">Hour</text>
<text x="208" y="26" font-size="12">24</text>
<text x="20" y="36" font-size="12">0</text>
<text x="13.2" y="178.4" font-size="12">50</text>
<text x="7.3" y="335.4" font-size="12">100</text>
<text transform="translate(8.6,245.4) rotate(-90)" font-size="12.3">Day number</text>
<text x="12.2" y="422.3" font-size="13" font-weight="bold">A</text>
<!-- arrow -->
<line x1="7.2" y1="134.7" x2="16" y2="134.7" stroke="#1a5aa8" stroke-width="1.8"/>
<polygon points="14.2,131.2 25.3,134.6 14.2,138.1" fill="#1a5aa8"/>
<rect x="28.4" y="133" width="1.4" height="1.4" fill="#666"/>
<rect x="29.2" y="172" width="1.3" height="1.3" fill="#777"/>
<rect x="29.8" y="330.7" width="1.3" height="1.3" fill="#777"/>
<!-- Panel B labels -->
<text x="444" y="10" font-size="12">Time (hours)</text>
<text x="309" y="25.6" font-size="12">0</text>
<text x="388" y="25.4" font-size="12">12</text>
<text x="471" y="25.3" font-size="12">24</text>
<text x="554" y="25.2" font-size="12">36</text>
<text x="637" y="25.1" font-size="12">48</text>
<text x="295" y="50.7" font-size="12">1</text>
<text x="289" y="116.3" font-size="12">10</text>
<text x="288" y="187.4" font-size="12">20</text>
<text x="288" y="256.3" font-size="12">30</text>
<text x="288" y="326.3" font-size="12">40</text>
<text x="288" y="398" font-size="12">50</text>
<text transform="translate(275.1,252.4) rotate(-90)" font-size="12">Day number</text>
<text x="278.4" y="422.2" font-size="13" font-weight="bold">B</text>
<text x="363.6" y="106.8" font-size="12">Period = 24.0 hrs</text>
<text x="505" y="277.5" font-size="12">Period = 25.3 hrs</text>
</g>
</svg>
</body></html>
